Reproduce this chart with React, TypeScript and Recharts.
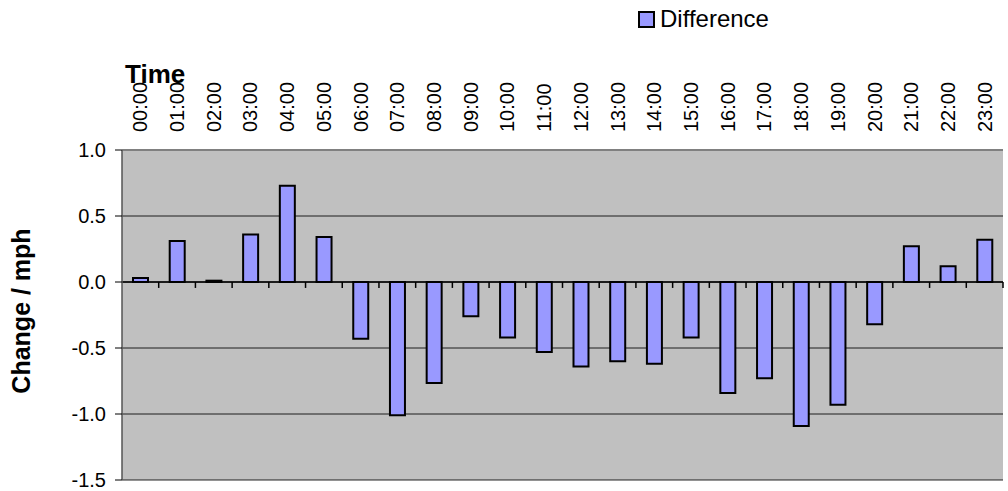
import { BarChart, Bar, XAxis, YAxis, CartesianGrid, Legend, ReferenceLine } from 'recharts'

const hours = [
  '00:00', '01:00', '02:00', '03:00', '04:00', '05:00', '06:00', '07:00',
  '08:00', '09:00', '10:00', '11:00', '12:00', '13:00', '14:00', '15:00',
  '16:00', '17:00', '18:00', '19:00', '20:00', '21:00', '22:00', '23:00',
]

const difference = [
  0.03, 0.31, 0.01, 0.36, 0.73, 0.34, -0.43, -1.01,
  -0.765, -0.26, -0.42, -0.53, -0.64, -0.6, -0.62, -0.42,
  -0.84, -0.73, -1.09, -0.93, -0.32, 0.27, 0.12, 0.32,
]

const yTicks = [-1.5, -1.0, -0.5, 0, 0.5, 1.0]

const data = hours.map((time, i) => ({ time, value: difference[i], idx: i + 0.5 }))

// category boundaries on the zero line
const boundaries = hours.map((_, i) => i + 1)

const FONT = '"Liberation Sans", Arial, sans-serif'

const TopTick = (props: any) => {
  const { x, y, payload } = props
  return (
    <text
      transform={`translate(${x + 7},${y - 10}) rotate(-90)`}
      textAnchor="start"
      fontSize={20}
      fontFamily={FONT}
      fill="#000"
    >
      {payload.value}
    </text>
  )
}

const TimeLabel = (props: any) => {
  const { viewBox } = props
  return (
    <text
      x={viewBox.x + 3}
      y={viewBox.y + 43}
      fontSize={26}
      fontWeight="bold"
      fontFamily={FONT}
      fill="#000"
    >
      Time
    </text>
  )
}

const YLabel = (props: any) => {
  const { viewBox } = props
  const cx = viewBox.x + 30
  const cy = viewBox.y + viewBox.height / 2 - 4
  return (
    <text
      transform={`translate(${cx},${cy}) rotate(-90)`}
      textAnchor="middle"
      fontSize={25}
      fontWeight="bold"
      fontFamily={FONT}
      fill="#000"
    >
      Change / mph
    </text>
  )
}

const LegendBox = () => (
  <div style={{ height: 40, position: 'relative', fontFamily: FONT }}>
    <div style={{ position: 'absolute', left: 638, top: 5, display: 'flex', alignItems: 'center', height: 28 }}>
      <span style={{
        display: 'inline-block', width: 13, height: 13, background: '#9999FF',
        border: '2px solid #000', marginRight: 5, boxSizing: 'content-box',
      }} />
      <span style={{ fontSize: 24, color: '#000', lineHeight: '28px' }}>Difference</span>
    </div>
  </div>
)

const App = () => {
  return (
    <div style={{ position: 'absolute', left: 0, top: 0, background: '#fff' }}>
      <BarChart
        width={1008}
        height={491}
        data={data}
        margin={{ top: 0, right: 5, bottom: 11, left: 0 }}
        barSize={15}
      >
        <Legend
          verticalAlign="top"
          content={<LegendBox />}
          wrapperStyle={{ top: 0, left: 0, width: 1008 }}
        />
        <CartesianGrid vertical={false} stroke="#000" strokeOpacity={0.85} fill="#C0C0C0" fillOpacity={1} />
        <XAxis
          dataKey="time"
          orientation="top"
          height={110}
          interval={0}
          tickLine={false}
          axisLine={{ stroke: '#808080', strokeWidth: 2 }}
          tick={<TopTick />}
          label={<TimeLabel />}
        />
        <XAxis xAxisId="idx" type="number" dataKey="idx" domain={[0, 24]} hide />
        <YAxis
          width={122}
          domain={[-1.5, 1.0]}
          ticks={yTicks}
          interval={0}
          tickFormatter={(v: number) => v.toFixed(1)}
          tick={{ fontSize: 20, fontFamily: FONT, fill: '#000' }}
          tickLine={{ stroke: '#000' }}
          tickSize={7}
          tickMargin={9}
          axisLine={{ stroke: '#555', strokeWidth: 1.5 }}
          label={<YLabel />}
        />
        <YAxis
          yAxisId="right"
          orientation="right"
          width={0}
          domain={[-1.5, 1.0]}
          tick={false}
          tickLine={false}
          axisLine={{ stroke: '#808080', strokeWidth: 2.5 }}
        />
        <ReferenceLine y={0} stroke="#000" strokeWidth={1.5} />
        {boundaries.map((b) => (
          <ReferenceLine
            key={b}
            xAxisId="idx"
            segment={[{ x: b, y: 0 }, { x: b, y: -0.045 }]}
            stroke="#000"
            strokeWidth={1.5}
          />
        ))}
        <Bar
          dataKey="value"
          name="Difference"
          fill="#9999FF"
          stroke="#000"
          strokeWidth={2}
          isAnimationActive={false}
        />
      </BarChart>
    </div>
  )
}

export default App
